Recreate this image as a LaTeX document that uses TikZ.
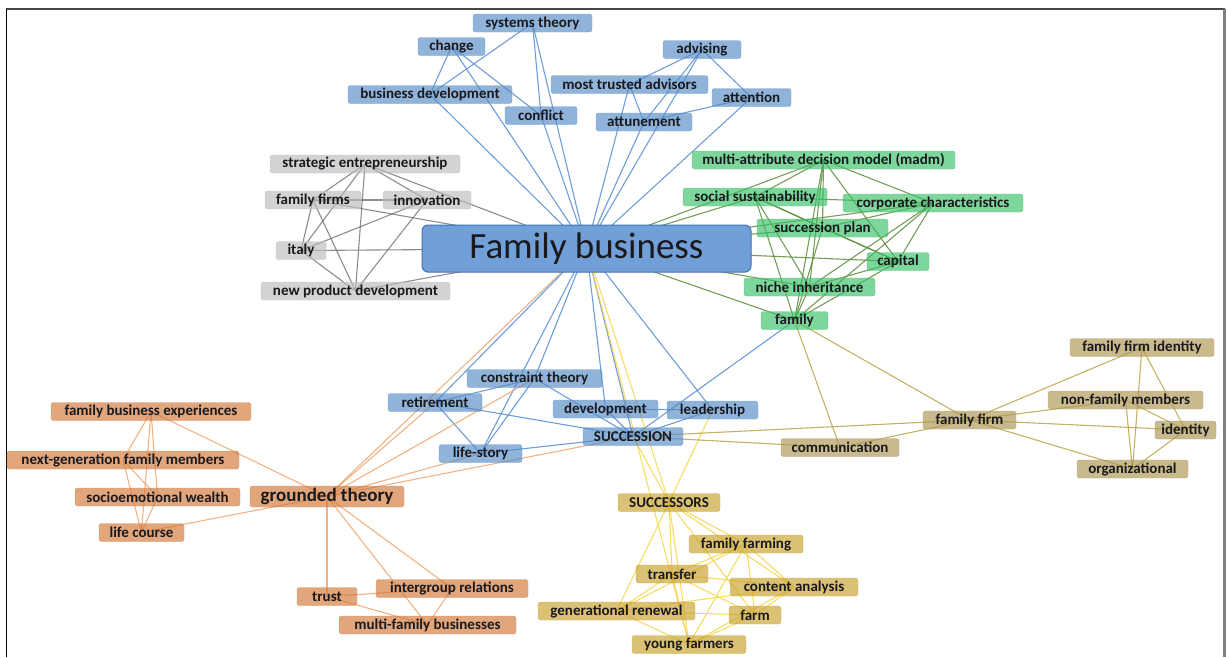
\documentclass[tikz,border=0pt]{standalone}
\usepackage{fontspec}
\setmainfont{Carlito}
\pgfdeclarelayer{links}
\pgfdeclarelayer{labels}
\pgfdeclarelayer{hub}
\pgfsetlayers{main,links,labels,hub}
\definecolor{txt}{RGB}{25,25,30}
% label fills are translucent, so these are chosen to read correctly over white
\definecolor{bluefill}{RGB}{83,138,197}
\definecolor{blueline}{RGB}{128,165,206}
\definecolor{blueedge}{RGB}{84,141,212}
\definecolor{hubfill}{RGB}{113,159,216}
\definecolor{hubdraw}{RGB}{65,113,178}
\definecolor{grayfill}{RGB}{187,187,187}
\definecolor{grayline}{RGB}{200,200,200}
\definecolor{grayedge}{RGB}{120,120,120}
\definecolor{greenfill}{RGB}{55,192,103}
\definecolor{greenline}{RGB}{110,200,140}
\definecolor{greenedge}{RGB}{92,140,60}
\definecolor{orangefill}{RGB}{210,118,55}
\definecolor{orangeline}{RGB}{212,152,110}
\definecolor{orangeedge}{RGB}{240,165,110}
\definecolor{yellowfill}{RGB}{200,160,40}
\definecolor{yellowline}{RGB}{205,180,100}
\definecolor{yellowedge}{RGB}{245,213,75}
\definecolor{brownfill}{RGB}{172,149,81}
\definecolor{brownline}{RGB}{185,170,125}
\definecolor{brownedge}{RGB}{188,163,72}
\begin{document}
\begin{tikzpicture}[x=1pt,y=-1pt,
  kw/.style={rounded corners=2.5pt, inner sep=0pt, minimum height=18pt,
    text=txt, font=\fontsize{15}{17}\selectfont\bfseries, line width=0.4pt,
    fill opacity=0.65, text opacity=1},
  bn/.style={kw, fill=bluefill, draw=blueline},
  gn/.style={kw, fill=grayfill, draw=grayline},
  en/.style={kw, fill=greenfill, draw=greenline},
  on/.style={kw, fill=orangefill, draw=orangeline},
  yn/.style={kw, fill=yellowfill, draw=yellowline},
  wn/.style={kw, fill=brownfill, draw=brownline},
  link/.style={line width=1.1pt, opacity=0.85},
  be/.style={link, draw=blueedge},
  ge/.style={link, draw=grayedge},
  ee/.style={link, draw=greenedge},
  oe/.style={link, draw=orangeedge},
  ye/.style={link, draw=yellowedge},
  we/.style={link, draw=brownedge}]
\useasboundingbox (0,0) rectangle (1226,657);

% frame
\draw[line width=1.6pt, draw={rgb,255:red,70;green,70;blue,70}] (6,9) -- (1225,9);
\draw[line width=1.3pt, black] (6.5,9) -- (6.5,657);
\draw[line width=2.2pt, draw={rgb,255:red,128;green,128;blue,128}] (1224.5,9) -- (1224.5,657);

% central hub
\begin{pgfonlayer}{hub}
\node[rounded corners=6pt, fill=hubfill, draw=hubdraw, line width=1pt,
  minimum width=329pt, minimum height=47pt, inner sep=0pt, text=txt,
  font=\fontsize{37}{40}\selectfont] (fb) at (586.5,248.5) {Family business};
\end{pgfonlayer}

\begin{pgfonlayer}{labels}
% blue cluster
\node[bn, minimum width=119pt] (systems) at (532.5,23) {systems theory};
\node[bn, minimum width=67pt] (change) at (451.5,46.5) {change};
\node[bn, minimum width=78pt] (advising) at (702,49.5) {advising};
\node[bn, minimum width=157pt] (mta) at (629.5,84.5) {most trusted advisors};
\node[bn, minimum width=164pt] (busdev) at (430,94.5) {business development};
\node[bn, minimum width=79pt] (attention) at (751.5,97.5) {attention};
\node[bn, minimum width=72pt] (conflict) at (541,115.5) {conflict};
\node[bn, minimum width=96pt] (attune) at (644,122) {attunement};
\node[bn, minimum width=135pt] (constraint) at (534.5,378.5) {constraint theory};
\node[bn, minimum width=94pt] (retire) at (435,402.5) {retirement};
\node[bn, minimum width=105pt] (develop) at (605.5,409) {development};
\node[bn, minimum width=91pt] (leader) at (712.5,410) {leadership};
\node[bn, minimum width=100pt] (succ) at (633,436.5) {SUCCESSION};
\node[bn, minimum width=83pt] (lifestory) at (480.5,453.5) {life-story};

% gray cluster
\node[gn, minimum width=190pt] (se) at (365,164) {strategic entrepreneurship};
\node[gn, minimum width=96pt] (ff) at (313,200) {family firms};
\node[gn, minimum width=88pt] (innov) at (427,200) {innovation};
\node[gn, minimum width=50pt] (italy) at (301,250.5) {italy};
\node[gn, minimum width=189pt] (npd) at (355.5,291) {new product development};

% green cluster
\node[en, minimum width=263pt] (madm) at (823.5,160) {multi-attribute decision model (madm)};
\node[en, minimum width=144pt] (socsus) at (755,197) {social sustainability};
\node[en, minimum width=180pt] (corp) at (933,203) {corporate characteristics};
\node[en, minimum width=131pt] (splan) at (822.5,228) {succession plan};
\node[en, minimum width=62pt] (capital) at (898,261.5) {capital};
\node[en, minimum width=131pt] (niche) at (809.5,287) {niche inheritance};
\node[en, minimum width=67pt] (family) at (794.5,320.5) {family};

% orange cluster
\node[on, minimum width=200pt] (fbe) at (151,411.5) {family business experiences};
\node[on, minimum width=232pt] (ngen) at (123,460) {next-generation family members};
\node[on, minimum width=165pt] (sew) at (157.5,497) {socioemotional wealth};
\node[on, minimum width=154pt, minimum height=21pt, font=\fontsize{19}{21}\selectfont\bfseries] (gt) at (327,496.5) {grounded theory};
\node[on, minimum width=85pt] (lc) at (141.5,532.5) {life course};
\node[on, minimum width=60pt] (trust) at (327,596.5) {trust};
\node[on, minimum width=152pt] (igr) at (452,588.5) {intergroup relations};
\node[on, minimum width=177pt] (mfb) at (427.5,625) {multi-family businesses};

% yellow cluster
\node[yn, minimum width=102pt] (successors) at (669,502.5) {SUCCESSORS};
\node[yn, minimum width=114pt] (ffarm) at (746,544) {family farming};
\node[yn, minimum width=72pt] (transfer) at (672,574) {transfer};
\node[yn, minimum width=128pt] (content) at (794,587) {content analysis};
\node[yn, minimum width=157pt] (genren) at (616.5,611) {generational renewal};
\node[yn, minimum width=52pt] (farm) at (755,615) {farm};
\node[yn, minimum width=114pt] (young) at (689,644.5) {young farmers};

% brown cluster
\node[wn, minimum width=144pt] (ffi) at (1142,347.5) {family firm identity};
\node[wn, minimum width=155pt] (nfm) at (1125.5,400) {non-family members};
\node[wn, minimum width=93pt] (ffirm) at (969.5,420) {family firm};
\node[wn, minimum width=61pt] (identity) at (1185.5,430) {identity};
\node[wn, minimum width=118pt] (comm) at (840,447.5) {communication};
\node[wn, minimum width=111pt] (org) at (1132.5,469) {organizational};
\end{pgfonlayer}

\begin{pgfonlayer}{links}
% blue links
\foreach \a/\b in {systems/busdev, systems/conflict, systems/fb, change/busdev,
  change/conflict, change/fb, busdev/fb, conflict/fb, advising/mta,
  advising/attention, advising/fb, advising/attune, mta/attune, mta/fb,
  attention/attune, attention/fb, attune/fb, fb/constraint, fb/retire,
  fb/lifestory, fb/develop, fb/succ, fb/leader, retire/constraint,
  retire/lifestory, retire/succ, constraint/lifestory, constraint/succ,
  lifestory/succ, develop/succ, leader/succ, develop/leader, family/succ}
  \draw[be] (\a.center) -- (\b.center);
% gray links
\foreach \a/\b in {se/ff, se/italy, se/npd, se/fb, se/innov, ff/innov, ff/italy,
  ff/npd, ff/fb, innov/italy, innov/npd, italy/fb, italy/npd, npd/fb}
  \draw[ge] (\a.center) -- (\b.center);
% green links
\foreach \a/\b in {fb/madm, fb/socsus, fb/corp, fb/splan, fb/capital, fb/niche,
  fb/family, madm/socsus, madm/corp, madm/splan, madm/capital, madm/niche,
  madm/family, socsus/corp, socsus/splan, socsus/capital, socsus/niche,
  socsus/family, corp/splan, corp/capital, corp/niche, corp/family,
  splan/family, splan/capital, capital/niche, capital/family, niche/family}
  \draw[ee] (\a.center) -- (\b.center);
% orange links
\foreach \a/\b in {fbe/ngen, fbe/sew, fbe/lc, fbe/gt, ngen/sew, ngen/lc, sew/lc,
  lc/gt, gt/fb, gt/retire, gt/constraint, gt/succ, gt/lifestory, gt/trust,
  gt/igr, gt/mfb, trust/igr, trust/mfb, igr/mfb}
  \draw[oe] (\a.center) -- (\b.center);
% yellow links
\foreach \a/\b in {fb/successors, fb/young, succ/successors, leader/successors,
  successors/ffarm, successors/transfer, successors/content, successors/genren,
  successors/farm, successors/young, ffarm/transfer, ffarm/content,
  ffarm/genren, ffarm/farm, ffarm/young, transfer/content, transfer/genren,
  transfer/farm, transfer/young, content/genren, content/farm, content/young,
  genren/farm, genren/young, farm/young}
  \draw[ye] (\a.center) -- (\b.center);
% brown links
\foreach \a/\b in {family/comm, family/ffirm, succ/ffirm, succ/comm, comm/ffirm,
  ffirm/ffi, ffirm/nfm, ffirm/identity, ffirm/org, ffi/org, ffi/identity,
  nfm/identity, nfm/org, identity/org}
  \draw[we] (\a.center) -- (\b.center);
\end{pgfonlayer}
\end{tikzpicture}
\end{document}
